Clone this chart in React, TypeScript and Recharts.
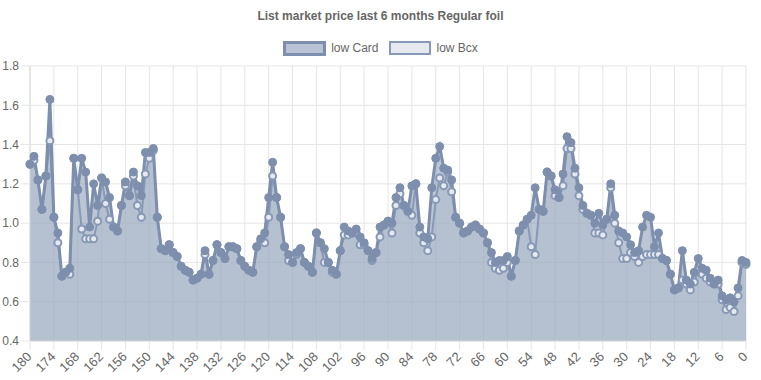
import React from "react";
import {
  ComposedChart,
  Area,
  Line,
  XAxis,
  YAxis,
  CartesianGrid,
  Legend,
} from "recharts";

const TITLE = "List market price last 6 months Regular foil";
const SERIES_NAMES = ["low Card", "low Bcx"];

const CARD = [
  1.30, 1.34, 1.22, 1.07, 1.24, 1.63, 1.03, 0.95, 0.73, 0.75,
  0.77, 1.33, 1.17, 1.33, 1.26, 0.98, 1.20, 1.09, 1.23, 1.21,
  1.13, 0.98, 0.96, 1.09, 1.21, 1.14, 1.26, 1.19, 1.14, 1.36,
  1.36, 1.38, 1.03, 0.87, 0.86, 0.89, 0.85, 0.83, 0.78, 0.76,
  0.75, 0.71, 0.72, 0.74, 0.86, 0.74, 0.81, 0.89, 0.85, 0.82,
  0.88, 0.88, 0.87, 0.81, 0.78, 0.76, 0.75, 0.88, 0.92, 0.95,
  1.13, 1.31, 1.13, 1.03, 0.88, 0.84, 0.80, 0.85, 0.87, 0.80,
  0.78, 0.75, 0.95, 0.90, 0.87, 0.80, 0.76, 0.74, 0.86, 0.98,
  0.96, 0.95, 0.97, 0.93, 0.90, 0.86, 0.82, 0.85, 0.98, 0.99,
  1.01, 1.00, 1.13, 1.18, 1.09, 1.06, 1.19, 1.20, 0.98, 0.93,
  0.92, 1.18, 1.33, 1.39, 1.28, 1.27, 1.22, 1.03, 1.00, 0.95,
  0.96, 0.98, 0.99, 0.97, 0.95, 0.90, 0.85, 0.80, 0.81, 0.81,
  0.83, 0.73, 0.81, 0.96, 0.99, 1.02, 1.04, 1.18, 1.07, 1.06,
  1.26, 1.24, 1.17, 1.13, 1.25, 1.44, 1.41, 1.28, 1.18, 1.09,
  1.05, 1.04, 1.00, 1.05, 0.99, 1.02, 1.20, 1.04, 0.96, 0.95,
  0.93, 0.89, 0.85, 0.86, 0.98, 1.04, 1.03, 0.88, 0.95, 0.82,
  0.81, 0.74, 0.66, 0.67, 0.86, 0.71, 0.69, 0.75, 0.82, 0.77,
  0.76, 0.72, 0.69, 0.71, 0.63, 0.61, 0.62, 0.60, 0.67, 0.81,
  0.80,
];

const BCX = [
  1.30, 1.32, 1.22, 1.07, 1.24, 1.42, 1.03, 0.90, 0.73, 0.75,
  0.74, 1.33, 1.17, 0.97, 0.92, 0.92, 0.92, 1.01, 1.23, 1.10,
  1.02, 0.98, 0.96, 1.09, 1.19, 1.14, 1.24, 1.09, 1.03, 1.25,
  1.33, 1.37, 1.03, 0.87, 0.86, 0.89, 0.85, 0.83, 0.78, 0.76,
  0.75, 0.71, 0.72, 0.74, 0.84, 0.74, 0.81, 0.89, 0.85, 0.82,
  0.88, 0.88, 0.87, 0.81, 0.78, 0.76, 0.75, 0.88, 0.91, 0.90,
  1.03, 1.24, 1.13, 1.03, 0.88, 0.81, 0.80, 0.84, 0.87, 0.80,
  0.78, 0.75, 0.95, 0.90, 0.80, 0.80, 0.75, 0.74, 0.86, 0.94,
  0.94, 0.95, 0.95, 0.89, 0.89, 0.86, 0.81, 0.85, 0.93, 0.99,
  1.01, 0.95, 1.09, 1.15, 1.09, 1.06, 1.04, 1.20, 0.95, 0.90,
  0.86, 0.93, 1.12, 1.23, 1.19, 1.26, 1.16, 1.03, 1.00, 0.95,
  0.96, 0.98, 0.99, 0.97, 0.95, 0.90, 0.80, 0.77, 0.76, 0.77,
  0.80, 0.73, 0.81, 0.96, 0.99, 1.02, 0.88, 0.84, 1.07, 1.06,
  1.26, 1.24, 1.14, 1.13, 1.19, 1.38, 1.38, 1.25, 1.14, 1.07,
  1.05, 1.04, 0.95, 0.95, 0.94, 1.02, 1.18, 1.00, 0.90, 0.82,
  0.82, 0.85, 0.83, 0.80, 0.83, 0.84, 0.84, 0.84, 0.84, 0.82,
  0.81, 0.74, 0.66, 0.67, 0.71, 0.69, 0.66, 0.70, 0.76, 0.74,
  0.72, 0.70, 0.69, 0.69, 0.61, 0.56, 0.57, 0.55, 0.63, 0.80,
  0.79,
];

const DAYS = CARD.map((_, i) => 180 - i);

const X_TICKS = [180, 174, 168, 162, 156, 150, 144, 138, 132, 126, 120, 114, 108, 102, 96, 90, 84, 78, 72, 66, 60, 54, 48, 42, 36, 30, 24, 18, 12, 6, 0];
const Y_TICKS = [0.4, 0.6, 0.8, 1.0, 1.2, 1.4, 1.6, 1.8];

const data = DAYS.map((d, i) => ({ day: d, card: CARD[i], bcx: BCX[i] }));

const FONT = '"Liberation Sans", Arial, Helvetica, sans-serif';
const TEXT = "#666";
const GRID = "#e5e5e5";
const CARD_LINE = "#7d8fad";
const CARD_FILL = "#7d8fad";
const BCX_LINE = "#8799b6";
const BCX_FILL = "#e6e9f0";

const XTick = (props: any) => {
  const { x, y, payload } = props;
  return (
    <g transform={`translate(${x},${y + 4})`}>
      <text
        textAnchor="end"
        dominantBaseline="middle"
        transform="rotate(-45)"
        fontSize={13}
        fontFamily={FONT}
        fill={TEXT}
      >
        {payload.value}
      </text>
    </g>
  );
};

const Header = () => (
  <div style={{ width: 761, height: 64, fontFamily: FONT, color: TEXT }}>
    <div
      style={{
        position: "absolute",
        top: 9,
        left: 0,
        width: 761,
        textAlign: "center",
        fontSize: 12,
        fontWeight: "bold",
        lineHeight: "14px",
      }}
    >
      {TITLE}
    </div>
    <div
      style={{
        position: "absolute",
        top: 40,
        left: 0,
        width: 761,
        display: "flex",
        justifyContent: "center",
        alignItems: "center",
        fontSize: 12,
        lineHeight: "16px",
      }}
    >
      <div style={{ display: "flex", alignItems: "center", marginRight: 10 }}>
        <div
          style={{
            width: 37,
            height: 9,
            border: `3px solid ${CARD_LINE}`,
            background: "#b9c3d5",
            marginRight: 5,
          }}
        />
        <span>{SERIES_NAMES[0]}</span>
      </div>
      <div style={{ display: "flex", alignItems: "center" }}>
        <div
          style={{
            width: 38,
            height: 10,
            border: `2px solid ${BCX_LINE}`,
            background: BCX_FILL,
            marginRight: 6,
          }}
        />
        <span>{SERIES_NAMES[1]}</span>
      </div>
    </div>
  </div>
);

export default function App() {
  return (
    <div style={{ position: "absolute", left: 0, top: 0, width: 761, height: 380, background: "#fff" }}>
      <ComposedChart
        width={761}
        height={380}
        data={data}
        margin={{ top: 66, right: 15, bottom: 0, left: 0 }}
      >
        <CartesianGrid stroke={GRID} strokeWidth={1} verticalValues={X_TICKS} horizontalValues={Y_TICKS} />
        <XAxis
          dataKey="day"
          type="number"
          domain={[0, 180]}
          reversed
          ticks={X_TICKS}
          interval={0}
          height={39}
          tickSize={9}
          tickMargin={1}
          tick={<XTick />}
          tickLine={{ stroke: GRID }}
          axisLine={{ stroke: "#d9d9d9" }}
        />
        <YAxis
          type="number"
          domain={[0.4, 1.8]}
          ticks={Y_TICKS}
          interval={0}
          width={30}
          tickSize={9}
          tickMargin={2}
          tickFormatter={(v: number) => v.toFixed(1)}
          tick={{ fontSize: 12, fontFamily: FONT, fill: TEXT }}
          tickLine={{ stroke: GRID }}
          axisLine={{ stroke: "#d9d9d9" }}
          allowDataOverflow
        />
        <Legend
          layout="horizontal"
          verticalAlign="middle"
          align="center"
          wrapperStyle={{ position: "absolute", top: 0, left: 0, width: 761, height: 64 }}
          content={() => <Header />}
        />
        <Area
          dataKey="bcx"
          type="linear"
          stroke="none"
          fill={BCX_FILL}
          fillOpacity={0.5}
          baseValue={0.4}
          dot={false}
          activeDot={false}
          isAnimationActive={false}
          legendType="none"
        />
        <Area
          dataKey="card"
          type="linear"
          stroke="none"
          fill={CARD_FILL}
          fillOpacity={0.52}
          baseValue={0.4}
          dot={false}
          activeDot={false}
          isAnimationActive={false}
          legendType="none"
        />
        <Line
          dataKey="bcx"
          type="linear"
          stroke={BCX_LINE}
          strokeWidth={2}
          dot={{ r: 3.5, fill: BCX_FILL, stroke: BCX_LINE, strokeWidth: 2 }}
          activeDot={false}
          isAnimationActive={false}
        />
        <Line
          dataKey="card"
          type="linear"
          stroke={CARD_LINE}
          strokeWidth={3}
          dot={{ r: 4, fill: CARD_LINE, stroke: CARD_LINE, strokeWidth: 1 }}
          activeDot={false}
          isAnimationActive={false}
        />
      </ComposedChart>
    </div>
  );
}
